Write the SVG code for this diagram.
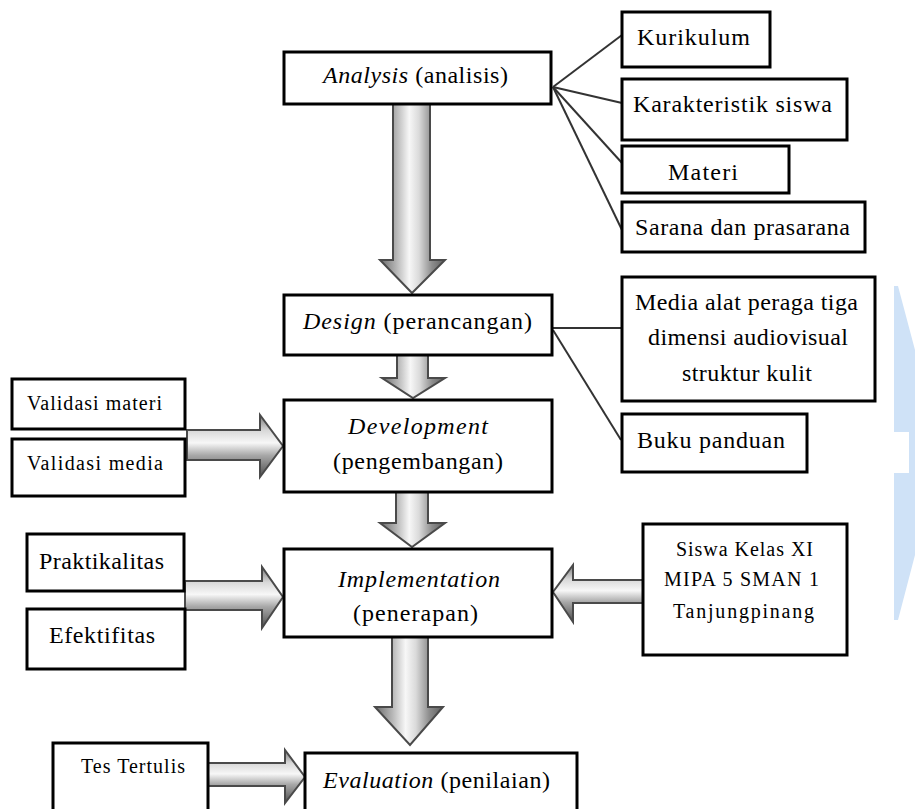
<svg xmlns="http://www.w3.org/2000/svg" width="915" height="809" viewBox="0 0 915 809">
<style>
.box{fill:#fff;stroke:#000;stroke-width:3}
.t{font-family:"Liberation Serif","Times New Roman",serif;font-size:24px;fill:#000;text-anchor:middle}
.s{font-size:20px}
.it{font-style:italic}
.ln{stroke:#333;stroke-width:2;fill:none}
.av{fill:url(#gv);stroke:#4a4a4a;stroke-width:2;stroke-linejoin:miter}
.ah{fill:url(#gh);stroke:#4a4a4a;stroke-width:2;stroke-linejoin:miter}
</style>
<defs>
<linearGradient id="gv" x1="0" y1="0" x2="1" y2="0">
<stop offset="0" stop-color="#6a6a6a"/>
<stop offset="0.25" stop-color="#b5b5b5"/>
<stop offset="0.45" stop-color="#f7f7f7"/>
<stop offset="0.6" stop-color="#dadada"/>
<stop offset="0.8" stop-color="#8c8c8c"/>
<stop offset="1" stop-color="#5e5e5e"/>
</linearGradient>
<linearGradient id="gh" x1="0" y1="0" x2="0" y2="1">
<stop offset="0" stop-color="#7a7a7a"/>
<stop offset="0.25" stop-color="#d8d8d8"/>
<stop offset="0.45" stop-color="#f7f7f7"/>
<stop offset="0.65" stop-color="#a8a8a8"/>
<stop offset="1" stop-color="#4e4e4e"/>
</linearGradient>
</defs>

<polygon points="894,286 898,286 915,350 915,555 898,620 894,620 894,473 909,473 909,432 894,432" fill="#cfe2f7"/>

<g id="connectors">
<line class="ln" x1="553" y1="87" x2="622" y2="35"/>
<line class="ln" x1="553" y1="87" x2="622" y2="103"/>
<line class="ln" x1="553" y1="87" x2="622" y2="163"/>
<line class="ln" x1="553" y1="87" x2="622" y2="230"/>
<line class="ln" x1="552" y1="328" x2="622" y2="328" stroke-width="3"/>
<line class="ln" x1="553" y1="330" x2="621" y2="440"/>
<path class="av" d="M393,104 H430 V260 H445 L412,293 L380,260 H393 Z"/>
<path class="av" d="M397,355 H428 V378 H445 L413,398 L382,378 H397 Z"/>
<path class="av" d="M396,492 H428 V523 H445 L412,547 L380,523 H396 Z"/>
<path class="av" d="M392,637 H428 V707 H443 L410,745 L375,707 H392 Z"/>
<path class="ah" d="M187,430 H260 V415 L283,446 L260,477 V460 H187 Z"/>
<path class="ah" d="M185,581 H262 V567 L283,597 L262,628 V610 H185 Z"/>
<path class="ah" d="M643,580 H573 V565 L553,592 L573,622 V603 H643 Z"/>
<path class="ah" d="M208,763 H285 V750 L305,777 L285,803 V786 H208 Z"/>
</g>

<g id="analysis">
<rect class="box" x="284" y="52" width="267" height="52"/>
<text class="t" x="415.5" y="83" textLength="185"><tspan class="it">Analysis</tspan> (analisis)</text>
</g>
<g id="kurikulum">
<rect class="box" x="622" y="12" width="148" height="55"/>
<text class="t" x="693.5" y="45" textLength="113">Kurikulum</text>
</g>
<g id="karakteristik">
<rect class="box" x="622" y="79" width="225" height="61"/>
<text class="t" x="732.5" y="112" textLength="199">Karakteristik siswa</text>
</g>
<g id="materi">
<rect class="box" x="622" y="146" width="167" height="47"/>
<text class="t" x="703" y="180" textLength="70">Materi</text>
</g>
<g id="sarana">
<rect class="box" x="622" y="202" width="243" height="50"/>
<text class="t" x="742.5" y="235" textLength="215">Sarana dan prasarana</text>
</g>
<g id="design">
<rect class="box" x="284" y="295" width="268" height="60"/>
<text class="t" x="417.5" y="329" textLength="229"><tspan class="it">Design</tspan> (perancangan)</text>
</g>
<g id="media">
<rect class="box" x="622" y="277" width="253" height="124"/>
<text class="t" x="746.5" y="310" textLength="223">Media alat peraga tiga</text>
<text class="t" x="748" y="345" textLength="200">dimensi audiovisual</text>
<text class="t" x="747" y="381" textLength="130">struktur kulit</text>
</g>
<g id="buku">
<rect class="box" x="622" y="414" width="185" height="58"/>
<text class="t" x="711" y="448" textLength="148">Buku panduan</text>
</g>
<g id="development">
<rect class="box" x="284" y="400" width="268" height="92"/>
<text class="t it" x="418" y="434" textLength="140">Development</text>
<text class="t" x="418" y="469" textLength="170">(pengembangan)</text>
</g>
<g id="validasi-materi">
<rect class="box" x="12" y="379" width="173" height="50"/>
<text class="t s" x="94.5" y="410" textLength="135">Validasi materi</text>
</g>
<g id="validasi-media">
<rect class="box" x="12" y="439" width="173" height="57"/>
<text class="t s" x="95" y="470" textLength="136">Validasi media</text>
</g>
<g id="implementation">
<rect class="box" x="284" y="549" width="268" height="88"/>
<text class="t it" x="419" y="587" textLength="162">Implementation</text>
<text class="t" x="415.5" y="621" textLength="125">(penerapan)</text>
</g>
<g id="praktikalitas">
<rect class="box" x="27" y="534" width="157" height="57"/>
<text class="t" x="101.5" y="569" textLength="125">Praktikalitas</text>
</g>
<g id="efektifitas">
<rect class="box" x="27" y="609" width="158" height="60"/>
<text class="t" x="102" y="643" textLength="106">Efektifitas</text>
</g>
<g id="siswa">
<rect class="box" x="643" y="524" width="204" height="131"/>
<text class="t s" x="744.5" y="556" textLength="137">Siswa Kelas XI</text>
<text class="t s" x="741.5" y="586" textLength="155">MIPA 5 SMAN 1</text>
<text class="t s" x="743.5" y="618" textLength="141">Tanjungpinang</text>
</g>
<g id="evaluation">
<rect class="box" x="305" y="753" width="272" height="70"/>
<text class="t" x="436.5" y="788" textLength="227"><tspan class="it">Evaluation</tspan> (penilaian)</text>
</g>
<g id="tes-tertulis">
<rect class="box" x="53" y="743" width="155" height="80"/>
<text class="t s" x="133" y="773" textLength="104">Tes Tertulis</text>
</g>
</svg>
